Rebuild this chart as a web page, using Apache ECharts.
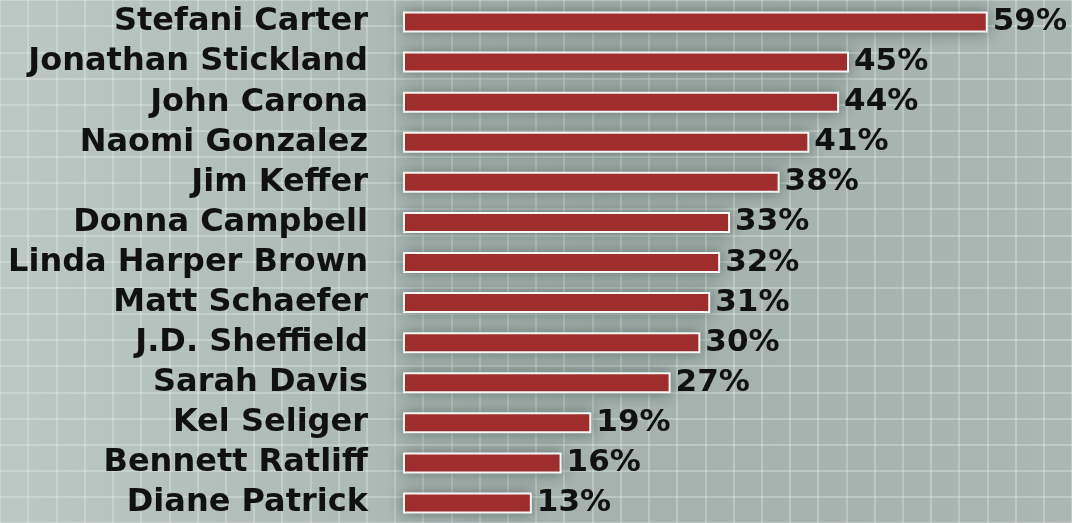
<!DOCTYPE html>
<html>
<head>
<meta charset="utf-8">
<script src="https://cdn.jsdelivr.net/npm/echarts@6/dist/echarts.min.js"></script>
<style>
  html, body { margin: 0; padding: 0; }
  #chart { width: 1072px; height: 523px; }
</style>
</head>
<body>
<div id="chart"></div>
<script>
const names = [
  "Stefani Carter", "Jonathan Stickland", "John Carona", "Naomi Gonzalez",
  "Jim Keffer", "Donna Campbell", "Linda Harper Brown", "Matt Schaefer",
  "J.D. Sheffield", "Sarah Davis", "Kel Seliger", "Bennett Ratliff", "Diane Patrick"
]
const shares = [59, 45, 44, 41, 38, 33, 32, 31, 30, 27, 19, 16, 13]

const chart = echarts.init(document.getElementById("chart"))

const font = "'DejaVu Sans', sans-serif"

const option = {
  animation: false,
  backgroundColor: new echarts.graphic.LinearGradient(0, 0, 1, 0, [
    { offset: 0, color: "#bcc8c4" },
    { offset: 0.3, color: "#aebbb7" },
    { offset: 0.55, color: "#a5b2ae" },
    { offset: 0.8, color: "#a6b3af" },
    { offset: 1, color: "#abb7b3" },
  ]),
  grid: [
    // graph-paper backdrop
    { left: -0.7, top: -14.6, width: 1102, height: 552 },
    // bars
    { left: 403, right: 0, top: 2, bottom: -3 },
  ],
  xAxis: [
    {
      gridIndex: 0, type: "value", min: 0, max: 38, interval: 1,
      axisLine: { show: false }, axisTick: { show: false }, axisLabel: { show: false },
      splitLine: { lineStyle: { color: "rgba(230,238,236,0.35)", width: 2 } },
    },
    {
      gridIndex: 1, type: "value", min: 0, max: 67.5,
      axisLine: { show: false }, axisTick: { show: false }, axisLabel: { show: false },
      splitLine: { show: false },
    },
  ],
  yAxis: [
    {
      gridIndex: 0, type: "value", min: 0, max: 20, interval: 1,
      axisLine: { show: false }, axisTick: { show: false }, axisLabel: { show: false },
      splitLine: { lineStyle: { color: "rgba(230,238,236,0.35)", width: 2 } },
    },
    {
      gridIndex: 1, type: "category", data: names, inverse: true,
      axisLine: { show: false }, axisTick: { show: false },
      axisLabel: {
        interval: 0,
        color: "#111", fontSize: 32, fontWeight: "bold", fontFamily: font, margin: 35,
      },
    },
  ],
  series: [
    {
      type: "bar",
      xAxisIndex: 1,
      yAxisIndex: 1,
      data: shares,
      barWidth: 21,
      itemStyle: {
        color: "#a82e2e",
        borderColor: "#f6f6f4",
        borderWidth: 2,
        shadowBlur: 14,
        shadowColor: "rgba(40,55,52,0.5)",
      },
      label: {
        show: true,
        position: "right",
        distance: 5,
        formatter: "{c}%",
        color: "#111",
        fontSize: 31,
        fontWeight: "bold",
        fontFamily: font,
      },
    },
  ],
}

chart.setOption(option)
</script>
</body>
</html>
